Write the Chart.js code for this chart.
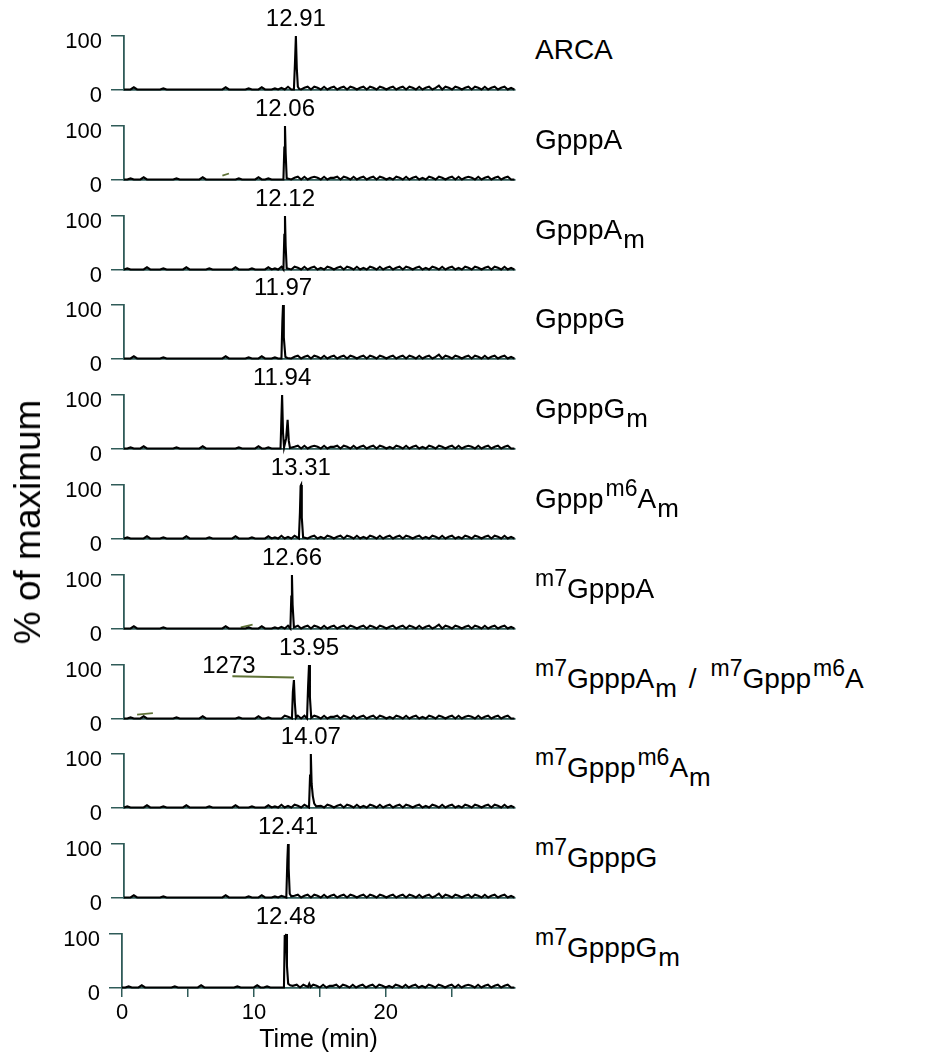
<!DOCTYPE html>
<html>
<head>
<meta charset="utf-8">
<script src="https://cdn.jsdelivr.net/npm/chart.js@4.4.1/dist/chart.umd.min.js"></script>
<style>
  body { margin: 0; background: #fff; font-family: "Liberation Sans", Arial, sans-serif; }
  #wrap { position: relative; width: 930px; height: 1061px; overflow: hidden; }
  canvas { position: absolute; }
  .name { position: absolute; left: 535px; font-size: 28px; line-height: 28px; color: #000; white-space: nowrap; }
  .name sub { font-size: 26px; line-height: 0; vertical-align: -9px; margin-left: 1px; }
  .name sup { font-size: 23px; line-height: 0; vertical-align: 12px; }
  .name sup.mid { margin-left: 2px; }
  .name .barra { margin: 0 14px 0 12px; }
  #ytitle { position: absolute; left: 28px; top: 522px; font-size: 37px; white-space: nowrap;
            transform: translate(-50%, -50%) rotate(-90deg); }
</style>
</head>
<body>
<div id="wrap"></div>
<script>
// nombres de los compuestos (html para sub/superindices)
const compuestos = [
  'ARCA',
  'GpppA',
  'GpppA<sub>m</sub>',
  'GpppG',
  'GpppG<sub>m</sub>',
  'Gppp<sup class="mid">m6</sup>A<sub>m</sub>',
  '<sup>m7</sup>GpppA',
  '<sup>m7</sup>GpppA<sub>m</sub><span class="barra">/</span><sup>m7</sup>Gppp<sup class="mid">m6</sup>A',
  '<sup>m7</sup>Gppp<sup class="mid">m6</sup>A<sub>m</sub>',
  '<sup>m7</sup>GpppG',
  '<sup>m7</sup>GpppG<sub>m</sub>'
];

// tiempo de retencion impreso sobre cada pico
const etiquetasPico = ['12.91', '12.06', '12.12', '11.97', '11.94', '13.31', '12.66', '13.95', '14.07', '12.41', '12.48'];
// donde cae el apice en el grafico (min)
const apices = [13.1, 12.27, 12.27, 12.12, 12.05, 13.48, 12.8, 14.1, 14.24, 12.5, 12.42];

// picos [tiempo, % del maximo]
const pico1 = [[12.95, 1], [13.03, 50], [13.1, 100], [13.17, 40], [13.25, 6], [13.35, 2]];
const pico2 = [[12.15, 1], [12.22, 60], [12.27, 100], [12.32, 50], [12.4, 3]];
const pico3 = [[12.15, 1], [12.22, 65], [12.27, 100], [12.32, 45], [12.4, 3]];
const pico4 = [[12.0, 1], [12.07, 70], [12.12, 100], [12.18, 40], [12.3, 4], [12.45, 2]];
const pico5 = [[11.93, 1], [12.0, 60], [12.05, 100], [12.12, 30], [12.2, 3], [12.36, 20], [12.47, 54], [12.56, 15], [12.65, 2]];
const pico6 = [[13.33, 1], [13.41, 50], [13.46, 98], [13.5, 100], [13.55, 40], [13.65, 3]];
const pico7 = [[12.68, 1], [12.75, 60], [12.8, 100], [12.85, 45], [12.95, 3]];
const pico8 = [[12.8, 1], [12.87, 50], [12.95, 72], [13.02, 30], [13.1, 2], [13.95, 1], [14.03, 60], [14.1, 100], [14.17, 40], [14.27, 2]];
const pico9 = [[14.1, 1], [14.18, 60], [14.24, 100], [14.3, 45], [14.39, 22], [14.5, 8], [14.65, 3]];
const pico10 = [[12.37, 1], [12.45, 70], [12.5, 100], [12.55, 55], [12.63, 8], [12.75, 3]];
const pico11 = [[12.28, 1], [12.34, 98], [12.39, 90], [12.44, 100], [12.51, 40], [12.6, 8], [12.75, 5], [12.95, 4], [14.1, 2], [14.2, 8], [14.3, 2]];
const picos = [pico1, pico2, pico3, pico4, pico5, pico6, pico7, pico8, pico9, pico10, pico11];

// ruido de linea base, un valor cada 0.25 min
const pasoRuido = 0.25;
const ruidoA = [1,1,1,5,1,1,1,1,1,1,1,1,3,1,1,1,1,1,1,1,1,1,1,1,1,1,1,1,1,1,1,5,1,1,1,1,1,1,3,1,1,1,5,1,1,1,3,1,
  4,1,6,1,4,6,1,4,6,1,6,4,1,6,1,4,6,1,4,6,1,6,4,1,4,6,1,6,4,1,6,4,1,4,6,1,4,6,1,6,4,1,6,1,4,6,1,4,8,1,6,4,1,6,4,1,4,6,1,6,4,1,6,1,4,6,1,4,6,1,4,1];
const ruidoB = [1,1,3,1,1,1,5,1,1,1,1,1,1,1,1,1,3,1,1,1,1,1,1,1,5,1,1,1,1,1,1,1,1,1,1,3,1,1,1,1,1,5,1,1,3,1,1,1,
  1,6,4,1,4,6,1,6,1,4,6,4,1,6,1,4,4,6,1,6,4,1,6,1,4,6,1,4,6,1,6,4,1,4,1,6,4,1,6,1,4,6,1,4,1,6,4,1,6,4,1,4,6,1,6,1,4,6,4,1,6,1,4,6,1,4,6,1,4,6,1,1];
const ruidoC = [1,3,1,1,1,1,1,5,1,1,1,1,3,1,1,1,1,1,1,5,1,1,1,1,1,1,3,1,1,1,1,1,1,1,5,1,1,1,1,3,1,1,1,1,5,1,3,1,
  6,1,4,1,6,4,1,6,1,4,6,1,4,1,6,4,1,4,6,1,6,4,1,6,1,4,1,6,4,1,6,1,4,6,1,4,6,1,6,4,1,4,6,1,4,1,6,4,1,6,1,4,6,1,4,1,6,4,1,6,4,1,4,6,1,6,4,1,6,1,4,1];
const ruidos = [ruidoA, ruidoB, ruidoC];

// trazos verdes sueltos [tiempo, %]
const marcas = [null, [[7.5, 8], [8.0, 12]], null, null, null, null, [[8.9, 3], [9.8, 8]], [[1.0, 8], [2.2, 11]], null, null, null];

// etiqueta con linea guia del pico menor (panel 8)
const guiaTexto = '1273';
const guiaPunto = [8.0, 100];
const guiaLinea = [[8.26, 79], [12.95, 77]];

const tiempoMax = 29.8;
const ticksX = [0, 10, 20];

const TEAL = '#2f5b58';
const OLIVA = '#5f7236';
const FUENTE = '"Liberation Sans", Arial, sans-serif';

const etiquetaPlugin = {
  id: 'etiquetaPico',
  afterDatasetsDraw(chart, args, opts) {
    const ctx = chart.ctx;
    const x = chart.scales.x, y = chart.scales.y;
    ctx.save();
    ctx.fillStyle = '#000';
    ctx.font = '24px ' + FUENTE;
    ctx.textAlign = 'center';
    ctx.textBaseline = 'alphabetic';
    ctx.fillText(opts.texto, x.getPixelForValue(opts.t), y.getPixelForValue(opts.v) - 10);
    if (opts.guia) {
      ctx.fillText(guiaTexto, x.getPixelForValue(guiaPunto[0]), y.getPixelForValue(guiaPunto[1]) + 8);
      ctx.strokeStyle = OLIVA;
      ctx.lineWidth = 2;
      ctx.beginPath();
      ctx.moveTo(x.getPixelForValue(guiaLinea[0][0]), y.getPixelForValue(guiaLinea[0][1]));
      ctx.lineTo(x.getPixelForValue(guiaLinea[1][0]), y.getPixelForValue(guiaLinea[1][1]));
      ctx.stroke();
    }
    ctx.restore();
  }
};

function armarTraza(i) {
  const pico = picos[i];
  const ruido = ruidos[i % 3];
  let pts = [];
  ruido.forEach((v, k) => {
    const t = k * pasoRuido;
    if (t > tiempoMax) return;
    const cerca = pico.some(p => Math.abs(p[0] - t) < 0.15);
    if (!cerca) pts.push({x: t, y: v});
  });
  pico.forEach(p => pts.push({x: p[0], y: p[1]}));
  pts.sort((a, b) => a.x - b.x);
  return pts;
}

const wrap = document.getElementById('wrap');
const n = compuestos.length;

for (let i = 0; i < n; i++) {
  const cero = 90 + 89.8 * i;
  const ultimo = i === n - 1;
  const ejeX = ultimo ? 122 : 124;
  const altoEjeX = ultimo ? 70 : 30;

  const canvas = document.createElement('canvas');
  canvas.width = 530;
  canvas.height = 90 + altoEjeX;
  canvas.style.left = '0px';
  canvas.style.top = (cero - 90) + 'px';
  wrap.appendChild(canvas);

  const datasets = [{
    data: armarTraza(i),
    borderColor: '#000',
    borderWidth: 2.1,
    pointRadius: 0,
    tension: 0,
    clip: false
  }];
  if (marcas[i]) {
    datasets.push({
      data: marcas[i].map(m => ({x: m[0], y: m[1]})),
      borderColor: OLIVA,
      borderWidth: 1.8,
      pointRadius: 0
    });
  }

  const apice = picos[i].find(p => p[0] === apices[i]);

  new Chart(canvas, {
    type: 'line',
    data: {datasets: datasets},
    plugins: [etiquetaPlugin],
    options: {
      responsive: false,
      animation: false,
      layout: {autoPadding: false, padding: {top: 36, right: 15, left: 0, bottom: 0}},
      plugins: {
        legend: {display: false},
        tooltip: {enabled: false},
        etiquetaPico: {texto: etiquetasPico[i], t: apices[i], v: apice ? apice[1] : 100, guia: i === 7}
      },
      scales: {
        x: {
          type: 'linear',
          min: 0,
          max: tiempoMax,
          grid: {drawOnChartArea: false, drawTicks: ultimo, tickLength: 9, color: TEAL, lineWidth: 1.5},
          border: {color: TEAL, width: 1.8},
          ticks: {
            display: ultimo,
            stepSize: 5,
            includeBounds: false,
            autoSkip: false,
            maxRotation: 0,
            padding: 3,
            color: '#000',
            font: {size: 22, family: FUENTE},
            callback: v => ticksX.includes(v) ? String(v) : ''
          },
          title: {
            display: ultimo,
            text: 'Time (min)',
            color: '#000',
            font: {size: 25, family: FUENTE},
            padding: {top: 0, bottom: 3}
          },
          afterFit: s => { s.height = altoEjeX; }
        },
        y: {
          min: 0,
          max: 100,
          grid: {drawOnChartArea: false, tickLength: 13, color: TEAL, lineWidth: 1.5},
          border: {color: TEAL, width: 1.8},
          ticks: {
            stepSize: 50,
            labelOffset: 6,
            padding: 9,
            color: '#000',
            font: {size: 22, family: FUENTE},
            callback: v => (v === 0 || v === 100) ? String(v) : ''
          },
          afterFit: s => { s.width = ejeX; }
        }
      }
    }
  });

  const nombre = document.createElement('div');
  nombre.className = 'name';
  nombre.innerHTML = compuestos[i];
  nombre.style.top = (cero - 54) + 'px';
  wrap.appendChild(nombre);
}

const yt = document.createElement('div');
yt.id = 'ytitle';
yt.textContent = '% of maximum';
wrap.appendChild(yt);
</script>
</body>
</html>
